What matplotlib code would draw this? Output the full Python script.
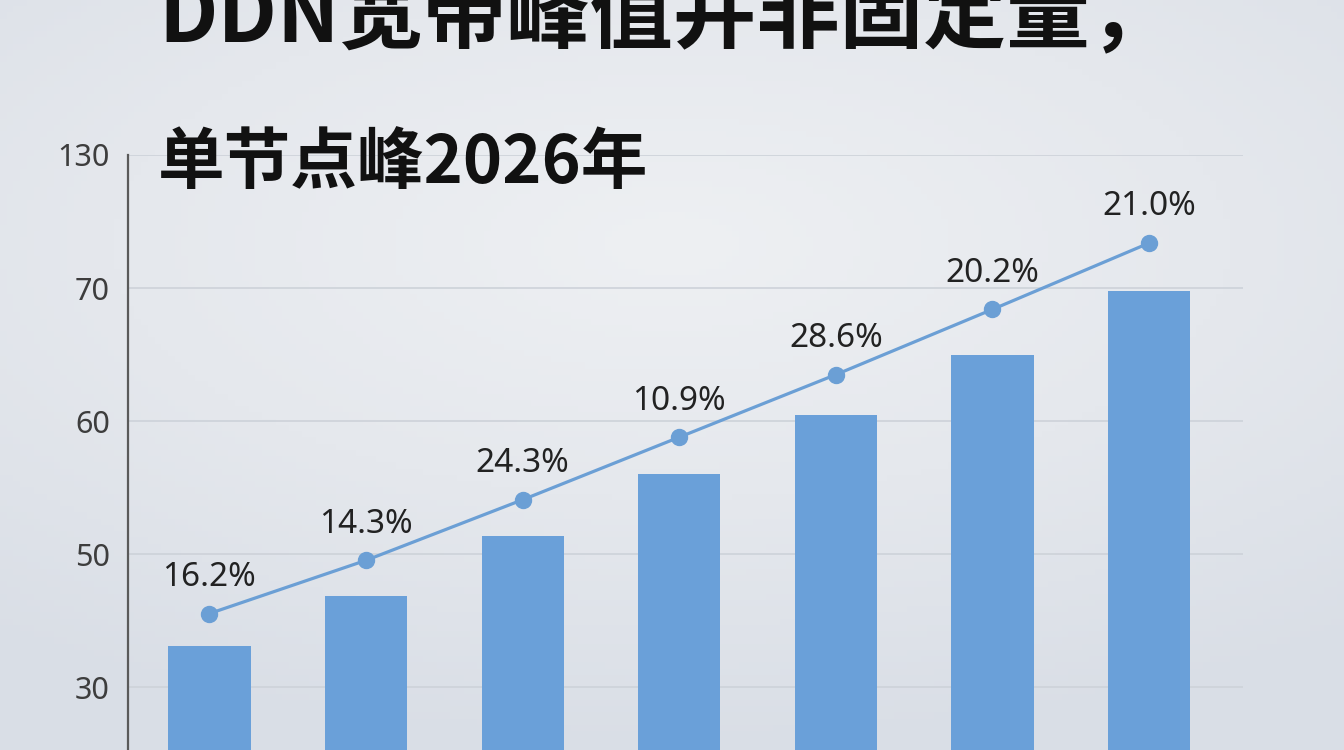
import numpy as np
import matplotlib
matplotlib.use("Agg")
import matplotlib.pyplot as plt
from matplotlib.colors import LinearSegmentedColormap

plt.rcParams['font.family'] = ['Noto Sans', 'Noto Sans CJK SC', 'DejaVu Sans']

# data
title = "DDN宽带峰值并非固定量，"
subtitle = "单节点峰2026年"
y_ticks = [30, 50, 60, 70, 130]
bar_values = [36.2, 43.8, 51.4, 56.0, 60.5, 65.0, 69.8]
line_values = [41.1, 49.1, 54.1, 58.8, 63.5, 68.4, 90.3]
pct_labels = ["16.2%", "14.3%", "24.3%", "10.9%", "28.6%", "20.2%", "21.0%"]

BAR_COLOR = "#6aa0d9"
LINE_COLOR = "#6b9fd5"

# the axis is evenly spaced between uneven tick values -> piecewise scale
tick_pos = np.arange(len(y_ticks), dtype=float)


def fwd(v):
    v = np.asarray(v, dtype=float)
    out = np.interp(v, y_ticks, tick_pos)
    lo = v < y_ticks[0]
    hi = v > y_ticks[-1]
    out = np.where(lo, (v - y_ticks[0]) / (y_ticks[1] - y_ticks[0]), out)
    out = np.where(hi, tick_pos[-1] + (v - y_ticks[-1]) / (y_ticks[-1] - y_ticks[-2]), out)
    return out


def inv(p):
    p = np.asarray(p, dtype=float)
    out = np.interp(p, tick_pos, y_ticks)
    lo = p < 0
    hi = p > tick_pos[-1]
    out = np.where(lo, y_ticks[0] + p * (y_ticks[1] - y_ticks[0]), out)
    out = np.where(hi, y_ticks[-1] + (p - tick_pos[-1]) * (y_ticks[-1] - y_ticks[-2]), out)
    return out


fig = plt.figure(figsize=(13.44, 7.5), dpi=100)

# soft background gradient
bg = fig.add_axes([0, 0, 1, 1], zorder=-10)
gx, gy = np.meshgrid(np.linspace(-1, 1, 200), np.linspace(-1, 1, 120))
g = np.sqrt((gx * 0.9) ** 2 + ((gy + 0.35) * 1.1) ** 2)
cmap = LinearSegmentedColormap.from_list("bg", ["#eef0f3", "#e5e8ed", "#d9dee6"])
bg.imshow(g, cmap=cmap, aspect="auto", extent=[0, 1, 0, 1], vmin=0, vmax=1.5)
bg.axis("off")

ax = fig.add_axes([128 / 1344, 0, (1243 - 128) / 1344, 1 - 155 / 750])
ax.patch.set_alpha(0)
ax.set_yscale("function", functions=(fwd, inv))

x = np.arange(len(bar_values))
ax.bar(x, bar_values, width=0.525, color=BAR_COLOR, zorder=2)
ax.plot(x, line_values, color=LINE_COLOR, lw=2.3, marker="o", ms=11.5, zorder=3)

for xi, yi, lab in zip(x, line_values, pct_labels):
    ax.annotate(lab, (xi, yi), xytext=(0, 26), textcoords="offset points",
                ha="center", va="center", fontsize=24, color="#222222")

ax.set_ylim(20.6, 130)
ax.set_xlim(-0.52, 6.6)
ax.set_yticks(y_ticks)
ax.set_yticklabels([str(t) for t in y_ticks])
ax.set_xticks([])
ax.tick_params(axis="y", length=0, pad=13, labelsize=22, labelcolor="#3d3d3d")
ax.grid(axis="y", color="#cdd2d9", lw=1.2, zorder=0)
for s in ["top", "right", "bottom"]:
    ax.spines[s].set_visible(False)
ax.spines["left"].set_color("#5a5a5a")
ax.spines["left"].set_linewidth(1.6)

# title is cropped at the top edge in the original, as here
fig.text(158 / 1344, 1 - 60 / 750, title, fontsize=60, fontweight="bold",
         family=["Noto Sans CJK SC", "DejaVu Sans"], color="#111111", va="bottom")
fig.text(158 / 1344, 1 - 197 / 750, subtitle, fontsize=48, fontweight="bold",
         family=["Noto Sans CJK SC", "DejaVu Sans"], color="#111111", va="bottom")

fig.savefig("out.png", dpi=100)
